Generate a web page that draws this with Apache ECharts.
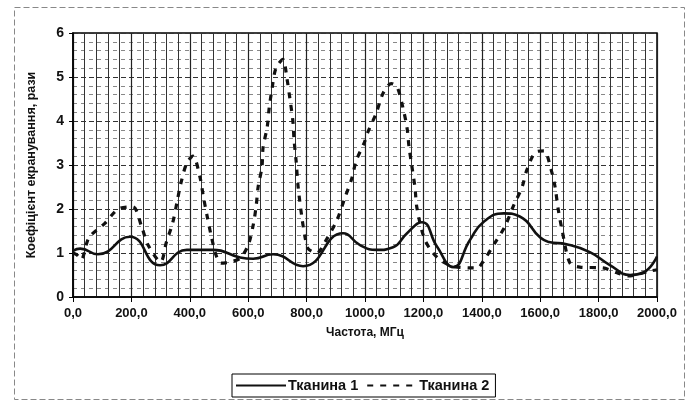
<!DOCTYPE html>
<html>
<head>
<meta charset="utf-8">
<script src="https://cdn.jsdelivr.net/npm/echarts@6/dist/echarts.min.js"></script>
<style>
html,body{margin:0;padding:0;background:#fff;}
#c{width:695px;height:403px;}
</style>
</head>
<body>
<div id="c"></div>
<script>
var seriesNames = ['Тканина 1', 'Тканина 2'];
var xTickLabels = ['0,0','200,0','400,0','600,0','800,0','1000,0','1200,0','1400,0','1600,0','1800,0','2000,0'];
var yTickLabels = ['0','1','2','3','4','5','6'];

var freq1 = [0, 25, 85, 195, 298, 390, 480, 572, 617, 685, 788, 925, 983, 1040, 1096, 1144, 1195, 1247, 1302, 1360, 1405, 1475, 1530, 1600, 1630, 1690, 1770, 1840, 1908, 1952, 2000];
var val1  = [1.05, 1.1, 0.97, 1.37, 0.72, 1.07, 1.07, 0.9, 0.87, 0.97, 0.7, 1.45, 1.18, 1.07, 1.13, 1.45, 1.7, 1.14, 0.68, 1.3, 1.7, 1.9, 1.83, 1.35, 1.25, 1.2, 1.02, 0.72, 0.5, 0.55, 0.92];

var freq2 = [0, 15, 28, 55, 110, 155, 205, 235, 257, 300, 320, 342, 356, 370, 390, 411, 435, 446, 459, 473, 490, 507, 540, 572, 600, 617, 627, 634, 647, 651, 665, 672, 682, 695, 719, 733, 743, 753, 757, 764, 771, 784, 795, 805, 835, 863, 904, 932, 955, 970, 997, 1010, 1038, 1062, 1090, 1110, 1130, 1144, 1151, 1161, 1171, 1178, 1205, 1247, 1300, 1384, 1404, 1445, 1479, 1507, 1538, 1555, 1586, 1613, 1637, 1651, 1661, 1675, 1702, 1736, 1815, 1863, 1900, 1983, 2000];
var val2  = [1.0, 0.95, 0.85, 1.35, 1.68, 2.0, 2.05, 1.6, 1.18, 0.8, 1.25, 1.7, 2.15, 2.6, 3.05, 3.2, 2.72, 2.3, 1.85, 1.4, 0.95, 0.77, 0.8, 0.88, 1.18, 1.63, 2.05, 2.5, 2.95, 3.4, 3.86, 4.3, 4.75, 5.2, 5.4, 4.95, 4.5, 4.0, 3.57, 3.1, 2.5, 1.8, 1.35, 1.1, 1.0, 1.25, 1.75, 2.27, 2.7, 3.1, 3.5, 3.75, 4.17, 4.63, 4.85, 4.77, 4.3, 3.84, 3.4, 2.95, 2.5, 2.02, 1.3, 0.9, 0.7, 0.66, 0.8, 1.23, 1.6, 2.05, 2.5, 2.9, 3.3, 3.32, 2.9, 2.5, 2.02, 1.52, 0.77, 0.68, 0.66, 0.55, 0.48, 0.6, 0.62];

function pairs(xs, ys) { return xs.map(function (x, i) { return [x, ys[i]]; }); }

var chart = echarts.init(document.getElementById('c'), null, {renderer: 'canvas'});
var FONT = 'Liberation Sans, Arial, sans-serif';
chart.setOption({
  backgroundColor: '#fff',
  animation: false,
  graphic: [{
    type: 'rect', left: 12, top: 5,
    shape: {width: 670, height: 392},
    style: {fill: 'none', stroke: '#888', lineWidth: 1, lineDash: [6, 3]},
    z: -1
  }],
  grid: {left: 73, right: 38, top: 33, bottom: 106, show: true, borderColor: '#000', borderWidth: 1.5},
  legend: {
    show: true,
    data: seriesNames,
    top: 374,
    left: 232,
    itemWidth: 50, itemHeight: 14, itemGap: 8,
    itemStyle: {opacity: 0},
    borderColor: '#000', borderWidth: 1, padding: [4, 6, 4, 3],
    textStyle: {fontFamily: FONT, fontSize: 14.5, fontWeight: 'bold', color: '#111', padding: [0, 0, 0, -3]}
  },
  xAxis: {
    type: 'value', min: 0, max: 2000, interval: 200,
    name: 'Частота, МГц', nameLocation: 'middle', nameGap: 30,
    nameTextStyle: {fontFamily: FONT, fontSize: 12, fontWeight: 'bold', color: '#111'},
    axisLine: {lineStyle: {color: '#000', width: 1.5}},
    axisTick: {show: true, length: 5, lineStyle: {color: '#000'}},
    axisLabel: {
      fontFamily: FONT, fontSize: 13, fontWeight: 'bold', color: '#111', margin: 10,
      formatter: function (v) { return xTickLabels[Math.round(v / 200)]; }
    },
    splitLine: {show: true, lineStyle: {color: '#222', width: 1.2}},
    minorTick: {show: false, splitNumber: 5},
    minorSplitLine: {show: true, lineStyle: {color: '#333', width: 1}}
  },
  yAxis: {
    type: 'value', min: 0, max: 6, interval: 1,
    name: 'Коефіцієнт екранування, рази', nameLocation: 'middle', nameGap: 35,
    nameTextStyle: {fontFamily: FONT, fontSize: 12.5, fontWeight: 'bold', color: '#111'},
    axisLine: {show: true, lineStyle: {color: '#000', width: 1.5}},
    axisTick: {show: true, length: 4, lineStyle: {color: '#000'}},
    axisLabel: {
      fontFamily: FONT, fontSize: 14, fontWeight: 'bold', color: '#111', margin: 9,
      formatter: function (v) { return yTickLabels[Math.round(v)]; }
    },
    splitLine: {show: true, lineStyle: {color: '#333', width: 1, type: [5, 3]}},
    minorTick: {show: false, splitNumber: 5},
    minorSplitLine: {show: true, lineStyle: {color: '#888', width: 1, type: [4, 4]}}
  },
  series: [{
    name: seriesNames[0], type: 'line', data: pairs(freq1, val1),
    smooth: 0.5, symbol: 'none',
    lineStyle: {color: '#111', width: 2.6}, itemStyle: {color: '#111'}, z: 3
  }, {
    name: seriesNames[1], type: 'line', data: pairs(freq2, val2),
    smooth: 0.3, symbol: 'none',
    lineStyle: {color: '#111', width: 3.2, type: [6, 7]}, itemStyle: {color: '#111'}, z: 3
  }]
});
</script>
</body>
</html>
